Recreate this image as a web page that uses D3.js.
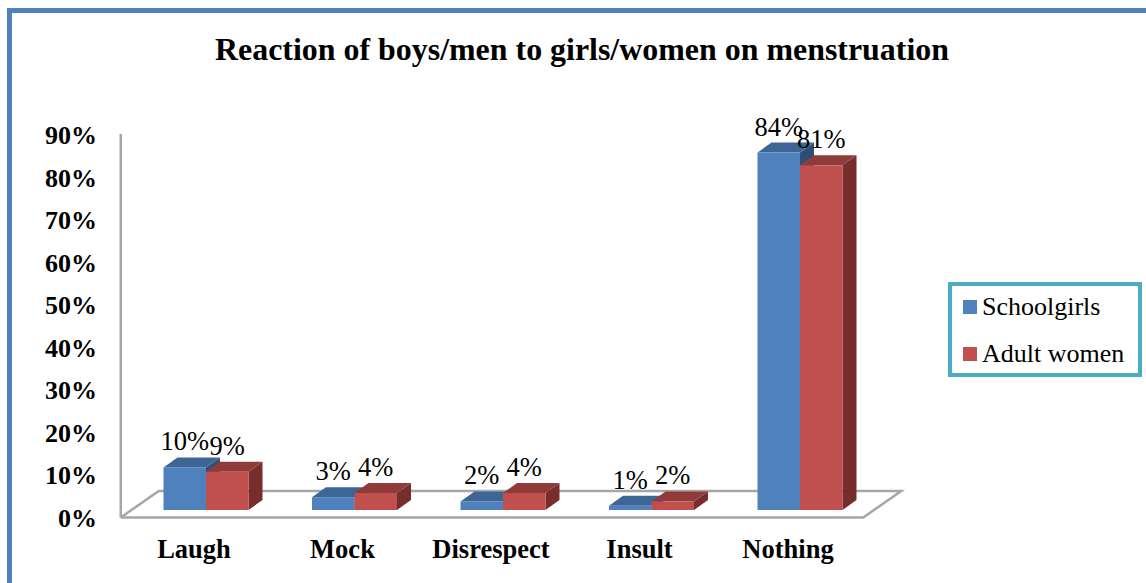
<!DOCTYPE html>
<html>
<head>
<meta charset="utf-8">
<script src="https://cdn.jsdelivr.net/npm/d3@7"></script>
<style>
  html, body { margin: 0; padding: 0; background: #fff; }
  svg { display: block; }
  text { font-family: "Liberation Serif", "Times New Roman", serif; fill: #000; }
</style>
</head>
<body>
<svg id="chart" width="1146" height="583"></svg>
<script>
// Reaction categories and percentage values per group
const categories = ["Laugh", "Mock", "Disrespect", "Insult", "Nothing"];
const seriesNames = ["Schoolgirls", "Adult women"];
const schoolgirls = [10, 3, 2, 1, 84];
const adultWomen = [9, 4, 4, 2, 81];
const tickValues = [0, 10, 20, 30, 40, 50, 60, 70, 80, 90];
const titleText = "Reaction of boys/men to girls/women on menstruation";

const seriesValues = [schoolgirls, adultWomen];
const colors = {
  front: ["#4F81BD", "#C0504D"],
  top:   ["#3D6595", "#903B39"],
  side:  ["#2F4E75", "#772D2B"]
};

const svg = d3.select("#chart");

// outer frame (open to the right and bottom)
svg.append("rect")
  .attr("x", 9.5).attr("y", 10.5)
  .attr("width", 1300).attr("height", 800)
  .attr("fill", "none")
  .attr("stroke", "#4F81BD")
  .attr("stroke-width", 5);

// title
svg.append("text")
  .attr("x", 582).attr("y", 60)
  .attr("text-anchor", "middle")
  .attr("textLength", 734)
  .attr("lengthAdjust", "spacingAndGlyphs")
  .style("font-weight", "bold")
  .style("font-size", "32px")
  .text(titleText);

// scales
const y = d3.scaleLinear().domain([0, 90]).range([519, 136]);
const x = d3.scaleBand().domain(categories)
  .range([131.75, 874.25]).paddingInner(0.4276).paddingOuter(0.2138);
const xs = d3.scaleBand().domain(seriesNames).range([0, x.bandwidth()]);

// 3D geometry: bars sit slightly behind the floor's front edge
const lift = { dx: 11, dy: 9 };      // bar front plane vs floor front edge
const floorDepth = { dx: 38, dy: 26.5 };
const barDepth = { dx: 14, dy: 10 };

const floorY = y(0) - 1.5;
const floorX0 = x.range()[0] - lift.dx;
const floorX1 = x.range()[1] - lift.dx;

const axisColor = "#A6A6A6";

// floor outline
svg.append("path")
  .attr("d", d3.line()([
    [floorX0, floorY],
    [floorX1, floorY],
    [floorX1 + floorDepth.dx, floorY - floorDepth.dy],
    [floorX0 + floorDepth.dx, floorY - floorDepth.dy],
    [floorX0, floorY]
  ]))
  .attr("fill", "none")
  .attr("stroke", axisColor)
  .attr("stroke-width", 2.5);

// vertical axis line
svg.append("line")
  .attr("x1", floorX0).attr("x2", floorX0)
  .attr("y1", y(90) - 2).attr("y2", floorY)
  .attr("stroke", axisColor)
  .attr("stroke-width", 2.5);

// value axis labels
svg.append("g").selectAll("text")
  .data(tickValues)
  .join("text")
  .attr("x", 97)
  .attr("y", d => y(d) + 8)
  .attr("text-anchor", "end")
  .style("font-weight", "bold")
  .style("font-size", "26px")
  .text(d => d + "%");

// bars
const barBase = y(0) - lift.dy;
const bars = [];
categories.forEach((c, i) => {
  seriesNames.forEach((s, j) => {
    bars.push({ c, s, j, v: seriesValues[j][i] });
  });
});

const barG = svg.append("g");
bars.forEach(b => {
  const x0 = x(b.c) + xs(b.s);
  const x1 = x0 + xs.bandwidth();
  const yTop = y(b.v) - lift.dy;
  const g = barG.append("g");
  // side face
  g.append("path")
    .attr("d", d3.line()([
      [x1, yTop], [x1 + barDepth.dx, yTop - barDepth.dy],
      [x1 + barDepth.dx, barBase - barDepth.dy], [x1, barBase]
    ]) + "Z")
    .attr("fill", colors.side[b.j]);
  // top face
  g.append("path")
    .attr("d", d3.line()([
      [x0, yTop], [x0 + barDepth.dx, yTop - barDepth.dy],
      [x1 + barDepth.dx, yTop - barDepth.dy], [x1, yTop]
    ]) + "Z")
    .attr("fill", colors.top[b.j]);
  // front face
  g.append("rect")
    .attr("x", x0).attr("y", yTop)
    .attr("width", x1 - x0).attr("height", barBase - yTop)
    .attr("fill", colors.front[b.j]);
});

// value labels
svg.append("g").selectAll("text")
  .data(bars)
  .join("text")
  .attr("x", d => x(d.c) + xs(d.s) + xs.bandwidth() / 2)
  .attr("y", d => y(d.v) - lift.dy - barDepth.dy - 7)
  .attr("text-anchor", "middle")
  .style("font-size", "26.5px")
  .text(d => d.v + "%");

// category labels
svg.append("g").selectAll("text")
  .data(categories)
  .join("text")
  .attr("x", d => x(d) + x.bandwidth() / 2 - 12)
  .attr("y", 558)
  .attr("text-anchor", "middle")
  .style("font-weight", "bold")
  .style("font-size", "26.5px")
  .text(d => d);

// legend
const legend = svg.append("g");
legend.append("rect")
  .attr("x", 950).attr("y", 284)
  .attr("width", 190).attr("height", 91)
  .attr("fill", "#fff")
  .attr("stroke", "#4BACC6")
  .attr("stroke-width", 4);
seriesNames.forEach((s, j) => {
  legend.append("rect")
    .attr("x", 963).attr("y", 300 + j * 47)
    .attr("width", 14).attr("height", 14)
    .attr("fill", colors.front[j]);
  legend.append("text")
    .attr("x", 982).attr("y", 315 + j * 47)
    .style("font-size", "26px")
    .text(s);
});
</script>
</body>
</html>
